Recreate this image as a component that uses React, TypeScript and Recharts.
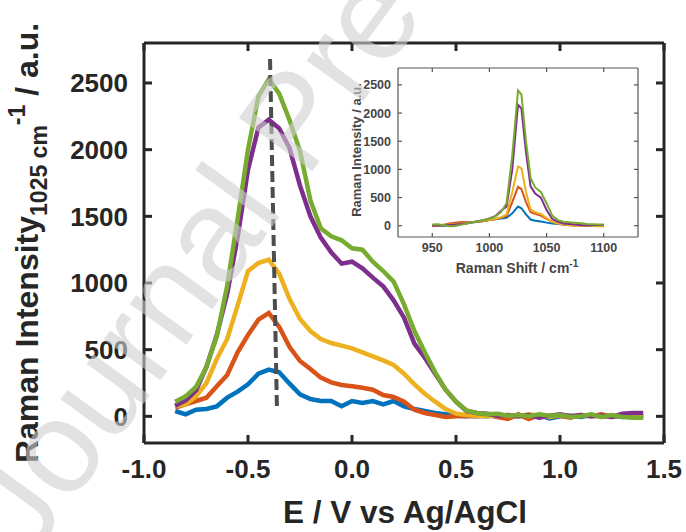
import { LineChart, Line, XAxis, YAxis, ReferenceLine } from "recharts";

// Potential sweep (V vs Ag/AgCl) and the 1025 cm-1 band intensity for each run
const potential = [
  -0.85, -0.8, -0.75, -0.7, -0.65, -0.6, -0.55, -0.5, -0.45, -0.4, -0.35, -0.3,
  -0.25, -0.2, -0.15, -0.1, -0.05, 0, 0.05, 0.1, 0.15, 0.2, 0.25, 0.3, 0.35, 0.4,
  0.45, 0.5, 0.55, 0.6, 0.65, 0.7, 0.75, 0.8, 0.85, 0.9, 0.95, 1.0, 1.05, 1.1,
  1.15, 1.2, 1.25, 1.3, 1.35, 1.4,
];
const runBlue = [
  40, 15, 50, 55, 75, 140, 185, 240, 320, 350, 330, 245, 165, 130, 115, 115, 75,
  115, 100, 115, 90, 115, 75, 55, 40, 25, 15, 5, 0, 5, 0, 10, -10, 5, 0, 10, -15,
  0, 5, -5, 10, 0, 5, -5, 0, 5,
];
const runRed = [
  65, 90, 115, 140, 225, 310, 480, 610, 725, 775, 670, 520, 415, 355, 290, 255,
  235, 225, 215, 200, 160, 145, 110, 50, 25, 10, -5, 0, 5, 0, 10, -5, -20, 15,
  -20, 10, 0, 5, -10, 10, 0, 15, -5, 10, 0, 5,
];
const runYellow = [
  75, 90, 150, 250, 430, 580, 830, 1090, 1150, 1175, 1070, 880, 730, 640, 580,
  550, 530, 510, 480, 450, 420, 385, 320, 240, 170, 110, 55, 20, 10, 5, 0, 10, 5,
  0, 15, 5, -5, 10, 0, 5, 10, -5, 5, 10, 0, 0,
];
const runPurple = [
  80, 120, 195, 370, 610, 920, 1340, 1850, 2165, 2225, 2160, 2010, 1730, 1500,
  1340, 1230, 1145, 1160, 1110, 1040, 975, 870, 740, 545, 440, 320, 200, 110, 40,
  25, 20, 5, 10, 0, 10, -10, 5, 15, 0, 10, 0, 5, -5, 20, 25, 25,
];
const runGreen = [
  110, 150, 220, 370, 600, 980, 1480, 2000, 2400, 2530, 2420, 2220, 1990, 1620,
  1410, 1350, 1320, 1260, 1250, 1160, 1090, 1010, 840, 640, 480, 330, 200, 110,
  45, 25, 15, 20, 5, 10, 0, 15, 5, 10, -5, 0, 15, -5, 10, -5, -10, -10,
];
// peak-position guide
const peakGuide = [
  { x: -0.394, y: 2680 },
  { x: -0.361, y: 70 },
];

const potentialTicks = [-1, -0.5, 0, 0.5, 1, 1.5];
const intensityTicks = [0, 500, 1000, 1500, 2000, 2500];

// Raman spectra (inset)
const ramanShift = [
  950, 955, 960, 965, 970, 975, 980, 985, 990, 995, 1000, 1005, 1010, 1015, 1020,
  1025, 1028, 1032, 1036, 1040, 1045, 1050, 1055, 1060, 1065, 1070, 1075, 1080,
  1085, 1090, 1095, 1100,
];
const specBlue = [
  10, 5, 0, 10, 20, 30, 40, 55, 70, 85, 100, 115, 130, 140, 220, 340, 310, 200,
  110, 90, 75, 55, 40, 30, 20, 15, 10, 10, 5, 5, 5, 5,
];
const specRed = [
  -10, 0, 20, 40, 55, 65, 60, 65, 70, 85, 100, 115, 140, 170, 420, 690, 650, 420,
  240, 210, 180, 120, 70, 40, 20, 10, 5, 10, 15, 5, 0, 0,
];
const specYellow = [
  0, 5, 15, 20, 30, 40, 50, 60, 75, 90, 100, 120, 150, 200, 600, 1050, 1020, 600,
  290, 240, 210, 140, 70, 40, 20, 10, 5, 0, -5, 0, -10, -15,
];
const specPurple = [
  0, 10, 5, 15, 20, 30, 45, 60, 80, 100, 130, 170, 260, 340, 1000, 2150, 2080,
  1300, 700, 570, 500, 280, 120, 70, 40, 30, 20, 10, 5, 10, 15, 15,
];
const specGreen = [
  20, 25, 10, -10, -5, 15, 40, 60, 80, 100, 120, 160, 240, 400, 1250, 2400, 2330,
  1500, 850, 680, 600, 400, 180, 100, 70, 60, 55, 45, 30, 25, 20, 20,
];
const shiftTicks = [950, 1000, 1050, 1100];

const COLORS = {
  blue: "#0072BD",
  red: "#D95319",
  yellow: "#EDB120",
  purple: "#7E2F8E",
  green: "#77AC30",
};
const SERIES = ["blue", "red", "yellow", "purple", "green"] as const;

const FONT = "'Liberation Sans', Arial, sans-serif";
const INK = "#262626";
const INSET_INK = "#454545";

const mainData = potential.map((x, i) => ({
  x,
  blue: runBlue[i],
  red: runRed[i],
  yellow: runYellow[i],
  purple: runPurple[i],
  green: runGreen[i],
}));

const insetData = ramanShift.map((x, i) => ({
  x,
  blue: specBlue[i],
  red: specRed[i],
  yellow: specYellow[i],
  purple: specPurple[i],
  green: specGreen[i],
}));

const mainTick = { fill: INK, fontSize: 26, fontWeight: 700, fontFamily: FONT };
const frame = { stroke: INK, strokeWidth: 3 };
const insetTick = { fill: INSET_INK, fontSize: 12.5, fontWeight: 700, fontFamily: FONT };
const insetFrame = { stroke: "#555", strokeWidth: 1.2 };
const blank = () => "";

// axes are 1px thick (zero-size axes are not rendered); margins make up the rest.
// top/right axes only mirror the box ticks, an invisible line keeps their scales set.
const MainChart = () => (
  <LineChart
    width={686}
    height={532}
    data={mainData}
    margin={{ top: 42, right: 21, bottom: 88, left: 143 }}
  >
    <XAxis
      dataKey="x"
      type="number"
      domain={[-1, 1.5]}
      ticks={potentialTicks}
      interval={0}
      allowDataOverflow
      height={1}
      tickSize={-8}
      tickMargin={25}
      tickFormatter={(v: number) => v.toFixed(1)}
      tick={mainTick}
      axisLine={frame}
      tickLine={frame}
    />
    <XAxis
      xAxisId="top"
      orientation="top"
      dataKey="x"
      type="number"
      domain={[-1, 1.5]}
      ticks={potentialTicks}
      interval={0}
      allowDataOverflow
      height={1}
      tickSize={-8}
      tickFormatter={blank}
      axisLine={frame}
      tickLine={frame}
    />
    <YAxis
      type="number"
      domain={[-200, 2800]}
      ticks={intensityTicks}
      interval={0}
      allowDataOverflow
      width={1}
      tickSize={-8}
      tickMargin={24}
      tick={mainTick}
      axisLine={frame}
      tickLine={frame}
    />
    <YAxis
      yAxisId="right"
      orientation="right"
      type="number"
      domain={[-200, 2800]}
      ticks={intensityTicks}
      interval={0}
      allowDataOverflow
      width={1}
      tickSize={-8}
      tickFormatter={blank}
      axisLine={frame}
      tickLine={frame}
    />
    <Line
      xAxisId="top"
      yAxisId="right"
      dataKey="green"
      stroke="none"
      dot={false}
      activeDot={false}
      isAnimationActive={false}
    />
    {SERIES.map((key) => (
      <Line
        key={key}
        dataKey={key}
        type="linear"
        stroke={COLORS[key]}
        strokeWidth={4.5}
        dot={false}
        isAnimationActive={false}
      />
    ))}
    <ReferenceLine
      segment={peakGuide}
      stroke="#4d4d4d"
      strokeWidth={4}
      strokeDasharray="11 5"
    />
  </LineChart>
);

const InsetChart = () => (
  <LineChart
    width={310}
    height={240}
    data={insetData}
    margin={{ top: 17, right: 11, bottom: 52, left: 57 }}
  >
    <XAxis
      dataKey="x"
      type="number"
      domain={[920, 1130]}
      ticks={shiftTicks}
      interval={0}
      allowDataOverflow
      height={1}
      tickSize={-4}
      tickMargin={10}
      tick={insetTick}
      axisLine={insetFrame}
      tickLine={insetFrame}
    />
    <XAxis
      xAxisId="top"
      orientation="top"
      dataKey="x"
      type="number"
      domain={[920, 1130]}
      ticks={shiftTicks}
      interval={0}
      allowDataOverflow
      height={1}
      tickSize={-4}
      tickFormatter={blank}
      axisLine={insetFrame}
      tickLine={insetFrame}
    />
    <YAxis
      type="number"
      domain={[-200, 2800]}
      ticks={intensityTicks}
      interval={0}
      allowDataOverflow
      width={1}
      tickSize={-4}
      tickMargin={11}
      tick={insetTick}
      axisLine={insetFrame}
      tickLine={insetFrame}
    />
    <YAxis
      yAxisId="right"
      orientation="right"
      type="number"
      domain={[-200, 2800]}
      ticks={intensityTicks}
      interval={0}
      allowDataOverflow
      width={1}
      tickSize={-4}
      tickFormatter={blank}
      axisLine={insetFrame}
      tickLine={insetFrame}
    />
    <Line
      xAxisId="top"
      yAxisId="right"
      dataKey="green"
      stroke="none"
      dot={false}
      activeDot={false}
      isAnimationActive={false}
    />
    {SERIES.map((key) => (
      <Line
        key={key}
        dataKey={key}
        type="linear"
        stroke={COLORS[key]}
        strokeWidth={2}
        dot={false}
        isAnimationActive={false}
      />
    ))}
  </LineChart>
);

export default function App() {
  return (
    <div
      style={{
        position: "absolute",
        left: 0,
        top: 0,
        width: 686,
        height: 532,
        background: "#fff",
        overflow: "hidden",
        fontFamily: FONT,
      }}
    >
      <div style={{ position: "absolute", left: 0, top: 0 }}>
        <MainChart />
      </div>
      <div style={{ position: "absolute", left: 340, top: 50 }}>
        <InsetChart />
      </div>
      <svg
        width={686}
        height={532}
        style={{ position: "absolute", left: 0, top: 0, pointerEvents: "none" }}
        fontFamily={FONT}
      >
        {/* axis titles */}
        <text x={405} y={523} textAnchor="middle" fontSize={31.5} fontWeight={700} fill={INK}>
          E / V vs Ag/AgCl
        </text>
        <text
          transform="translate(38,243) rotate(-90)"
          textAnchor="middle"
          fontSize={32}
          fontWeight={700}
          fill={INK}
        >
          Raman Intensity
          <tspan fontSize={23} dy={9}>
            1025 cm
          </tspan>
          <tspan fontSize={23} dy={-22}>
            -1
          </tspan>
          <tspan dy={13}> / a.u.</tspan>
        </text>
        <text
          transform="translate(361,150) rotate(-90)"
          textAnchor="middle"
          fontSize={13}
          fontWeight={700}
          fill={INSET_INK}
        >
          Raman Intensity / a.u.
        </text>
        <text x={517} y={273} textAnchor="middle" fontSize={14} fontWeight={700} fill={INSET_INK}>
          Raman Shift / cm
          <tspan fontSize={10} dy={-6}>
            -1
          </tspan>
        </text>
        {/* watermark */}
        <text
          transform="translate(30,560) rotate(-54)"
          fontSize={132}
          fill="#cfcfcf"
          fillOpacity={0.6}
        >
          Journal Pre-proof
        </text>
      </svg>
    </div>
  );
}
